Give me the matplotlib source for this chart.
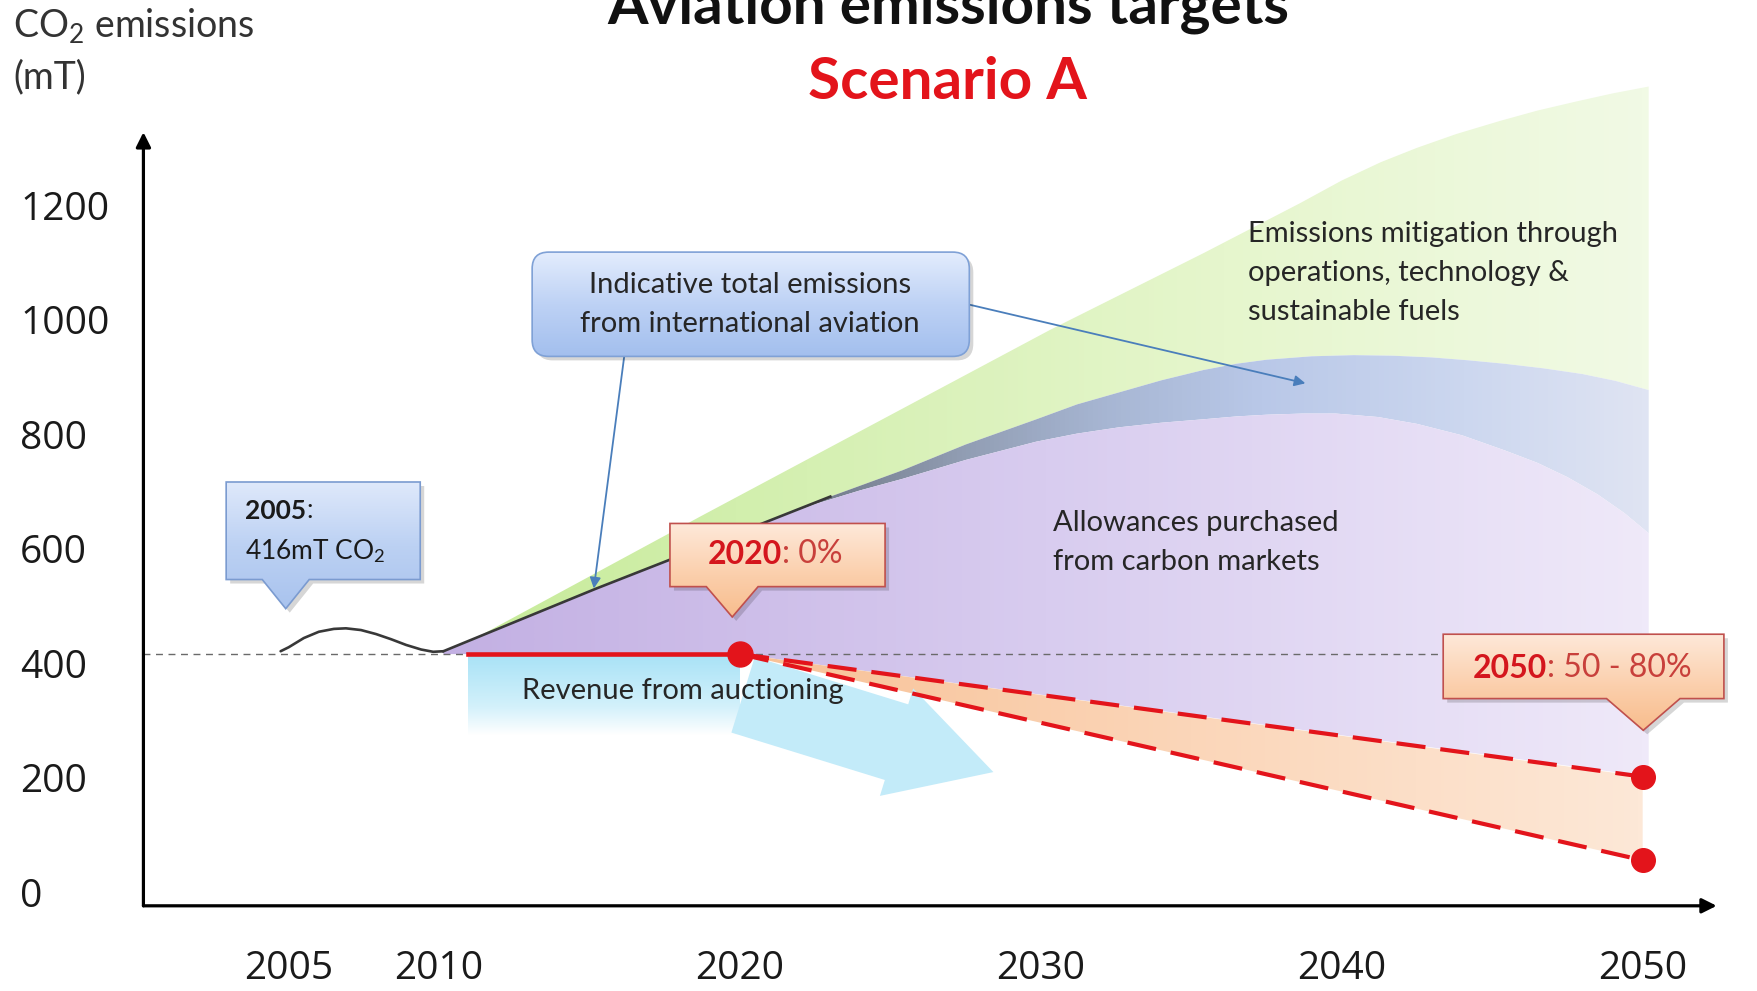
import numpy as np
import matplotlib
matplotlib.use("Agg")
import matplotlib.pyplot as plt
from matplotlib.patches import Polygon, FancyBboxPatch, FancyArrowPatch
from matplotlib.colors import LinearSegmentedColormap

plt.rcParams["font.family"] = ["Lato", "DejaVu Sans"]
plt.rcParams["mathtext.fontset"] = "custom"
plt.rcParams["mathtext.rm"] = "Lato"
plt.rcParams["mathtext.bf"] = "Lato:bold"
plt.rcParams["mathtext.it"] = "Lato:italic"

# ---------------- data ----------------
hist_years = [2004.73, 2005.0, 2005.5, 2006.0, 2006.5, 2006.9, 2007.4, 2007.9,
              2008.4, 2008.9, 2009.4, 2009.8, 2010.14]
hist_values = [421, 428, 444, 455, 460, 461, 458, 451, 442, 432, 424, 420, 421]

total_years = [2010.14, 2015.2, 2020.88, 2023.0, 2025.4, 2027.5, 2029.85, 2031.2,
               2032.6, 2034.0, 2035.4, 2036.5, 2037.5, 2039.0, 2040.4, 2041.7,
               2043.0, 2044.2, 2045.4, 2046.7, 2048.0, 2049.1, 2050.2]
total_values = [421, 530, 647, 691, 737, 782, 826, 852, 873, 894, 912, 923, 930,
                936, 938, 937, 934, 929, 923, 915, 905, 893, 877]

allow_years = [2010.14, 2015.2, 2020.88, 2022.5, 2024.0, 2025.4, 2027.5, 2029.85,
               2031.2, 2032.6, 2034.0, 2035.4, 2036.5, 2037.5, 2038.7, 2039.8,
               2041.2, 2042.5, 2044.0, 2045.4, 2046.5, 2047.5, 2048.5, 2049.4, 2050.2]
allow_values = [421, 530, 647, 678, 702, 722, 755, 787, 801, 812, 820, 826, 831,
                834, 836, 836, 830, 818, 798, 772, 750, 725, 695, 662, 627]

mitig_years = [2010.4, 2018.67, 2030.3, 2035.4, 2038.6, 2040.0, 2041.3, 2042.5,
               2043.8, 2045.26, 2046.5, 2047.8, 2049.0, 2050.2]
mitig_values = [421, 656, 982, 1116, 1203, 1243, 1275, 1300, 1324, 1347, 1365,
                1381, 1395, 1407]

baseline_value = 416
cap_years = [2010.97, 2020]
cap_values = [416, 416]
target_years = [2020, 2050]
target_upper = [416, 202]
target_lower = [416, 56]
revenue_floor = 275

ytick_values = [0, 200, 400, 600, 800, 1000, 1200]
xtick_years = [2005, 2010, 2020, 2030, 2040, 2050]

# ---------------- figure / axes ----------------
W, H = 1757, 991
fig = plt.figure(figsize=(W / 100, H / 100), dpi=100)
AXL, AXB = 0.08163, 0.08597
ax = fig.add_axes([AXL, AXB, 1 - AXL, 1 - AXB])
X0, X1, Y0, Y1 = 2000.17, 2053.80, -23.5, 1558.1
X_END, Y_END = 2052.46, 1327.3
ax.set_autoscale_on(False)
ax.set_xlim(X0, X1)
ax.set_ylim(Y0, Y1)
for s in ax.spines.values():
    s.set_visible(False)
ax.patch.set_alpha(0)
PXX = (X1 - X0) / (W * (1 - AXL))
PXY = (Y1 - Y0) / (H * (1 - AXB))

TXT = "#262626"
RED = "#e3141b"


def grad_poly(xs, ys, stops, z, vertical=False, patch=None):
    if patch is None:
        patch = Polygon(np.column_stack([xs, ys]), closed=True, fc="none", ec="none", zorder=z)
    ax.add_patch(patch)
    cmap = LinearSegmentedColormap.from_list("g", stops)
    g = np.linspace(0, 1, 256)
    arr = g.reshape(-1, 1) if vertical else g.reshape(1, -1)
    im = ax.imshow(arr, cmap=cmap, extent=[min(xs), max(xs), min(ys), max(ys)],
                   origin="lower", aspect="auto", interpolation="bilinear", zorder=z)
    im.set_clip_path(patch)
    return patch


# green: mitigation area
grad_poly(mitig_years + total_years[::-1], mitig_values + total_values[::-1],
          [(0, "#c6eb98"), (0.3, "#d5f0b2"), (0.65, "#e6f6cd"), (1, "#f1fae5")], 1)

# grey/blue band: indicative total emissions above allowances
grad_poly(total_years + allow_years[::-1], total_values + allow_values[::-1],
          [(0, "#5e6470"), (0.27, "#6a7280"), (0.35, "#7d8798"), (0.43, "#919db3"),
           (0.55, "#a7b6d3"), (0.68, "#b9c8e8"), (0.85, "#ccd7ef"), (1, "#dfe4f3")], 2)

# purple: allowances purchased
grad_poly(allow_years + [allow_years[-1], target_years[0], allow_years[0]],
          allow_values + [target_upper[-1], target_upper[0], baseline_value],
          [(0, "#c3b0e3"), (0.5, "#d8ccef"), (1, "#efe9f9")], 2)

# orange: target corridor
grad_poly([target_years[0], target_years[1], target_years[1]],
          [target_upper[0], target_upper[1], target_lower[1]],
          [(0, "#f8c196"), (0.5, "#fbd6b9"), (1, "#fde8d7")], 2)

# revenue from auctioning box
grad_poly([cap_years[0], cap_years[1], cap_years[1], cap_years[0]],
          [cap_values[0], cap_values[1], revenue_floor, revenue_floor],
          [(0, "#ffffff"), (0.35, "#d3f1fb"), (1, "#a8e2f6")], 2, vertical=True)

# big light-blue arrow
ax.add_patch(FancyArrowPatch(posA=(2020.1, 345), posB=(2028.42, 210),
                             arrowstyle="simple,head_length=73,head_width=81,tail_width=57",
                             mutation_scale=1, shrinkA=0, shrinkB=0,
                             fc="#c3ebf9", ec="none", zorder=2))

# baseline dashed
ax.plot([X0, 2043.37], [baseline_value, baseline_value], color="#6a6a6a", lw=1.0,
        dashes=(5, 4), zorder=3)

# historic & total emissions lines
ax.plot(hist_years, hist_values, color="#383838", lw=1.9, zorder=4,
        solid_capstyle="round", solid_joinstyle="round")
ax.plot(total_years[:4], total_values[:4], color="#383838", lw=1.9, zorder=4)

# red cap / targets
ax.plot(cap_years, cap_values, color=RED, lw=3.3, zorder=5)
ax.plot(target_years, target_upper, color=RED, lw=3.0, dashes=(7, 3.6), zorder=5)
ax.plot(target_years, target_lower, color=RED, lw=3.0, dashes=(7, 3.6), zorder=5)
ax.plot([target_years[0]], [target_upper[0]], "o", color=RED, ms=18, zorder=6)
ax.plot([target_years[1]] * 2, [target_upper[1], target_lower[1]], "o", color=RED,
        ms=17, zorder=6)


# ---------------- callouts ----------------
def callout(x0, x1, y0, y1, tip, half, stops, ec, z=7):
    tx, ty = tip
    xs = [x0, x1, x1, tx + half, tx, tx - half, x0]
    ys = [y1, y1, y0, y0, ty, y0, y0]
    sh = Polygon(np.column_stack([np.array(xs) + 4 * PXX, np.array(ys) - 4 * PXY]),
                 closed=True, fc="#000000", alpha=0.16, ec="none", zorder=z - 0.1)
    sh.set_clip_on(False)
    ax.add_patch(sh)
    grad_poly(xs, ys, stops, z, vertical=True)
    ax.add_patch(Polygon(np.column_stack([xs, ys]), closed=True, fc="none", ec=ec,
                         lw=1.2, zorder=z + 0.05, clip_on=False))


BLUE_STOPS = [(0, "#a9c3ee"), (0.5, "#bcd1f3"), (1, "#dfe9fb")]
ORANGE_STOPS = [(0, "#f8bd8d"), (0.45, "#fbcfac"), (1, "#fee9da")]

callout(2002.92, 2009.37, 546.2, 716.5, (2004.9, 495.3), 0.78, BLUE_STOPS, "#7b9bd0")
callout(2017.67, 2024.82, 533.8, 644.1, (2019.74, 480.8), 0.86, ORANGE_STOPS, "#c0504d")
callout(2043.37, 2052.70, 338.3, 450.7, (2050.02, 282.9), 1.22, ORANGE_STOPS, "#c0504d")

# rounded "indicative" box
bx0, bx1, by0, by1 = 2013.09, 2027.62, 935.8, 1117.9
asp = PXY / PXX
sh = FancyBboxPatch((bx0 + 4 * PXX, by0 - 4 * PXY), bx1 - bx0, by1 - by0,
                    boxstyle="round,pad=0,rounding_size=0.55", mutation_aspect=asp,
                    fc="#000000", alpha=0.16, ec="none", zorder=6.9)
ax.add_patch(sh)
rb = FancyBboxPatch((bx0, by0), bx1 - bx0, by1 - by0,
                    boxstyle="round,pad=0,rounding_size=0.55", mutation_aspect=asp,
                    fc="none", ec="none", zorder=7)
grad_poly([bx0, bx1], [by0, by1], [(0, "#a3bfee"), (0.5, "#bed2f5"), (1, "#e4edfd")],
          7, vertical=True, patch=rb)
ax.add_patch(FancyBboxPatch((bx0, by0), bx1 - bx0, by1 - by0,
                            boxstyle="round,pad=0,rounding_size=0.55", mutation_aspect=asp,
                            fc="none", ec="#7fa1d6", lw=1.2, zorder=7.05))
for (xa, ya), (xb, yb) in [((2016.15, 935.8), (2015.14, 530.5)),
                           ((2027.65, 1025.8), (2038.79, 888.8))]:
    ax.annotate("", xy=(xb, yb), xytext=(xa, ya),
                arrowprops=dict(arrowstyle="-|>", color="#4a7ebb", lw=1.3,
                                mutation_scale=16, shrinkA=0, shrinkB=0), zorder=6)

# ---------------- texts ----------------
FS = 21
ax.text(2020.32, 1025.8, "Indicative total emissions\nfrom international aviation",
        ha="center", va="center", fontsize=FS, color=TXT, linespacing=1.62, zorder=9)
ax.text(2036.89, 1080.7, "Emissions mitigation through\noperations, technology &\nsustainable fuels",
        ha="left", va="center", fontsize=FS, color=TXT, linespacing=1.62, zorder=9)
ax.text(2030.41, 610.8, "Allowances purchased\nfrom carbon markets",
        ha="left", va="center", fontsize=FS, color=TXT, linespacing=1.62, zorder=9)
ax.text(2012.76, 352.4, "Revenue from auctioning", ha="left", va="center",
        fontsize=FS, color=TXT, zorder=9)

t = ax.text(2003.56, 665.6, "2005", ha="left", va="center", fontsize=19,
            fontweight="bold", color="#1a1a1a", zorder=9)
ax.annotate(":", xy=(1, 0), xycoords=t, ha="left", va="bottom", fontsize=19,
            color="#1a1a1a", zorder=9)
ax.text(2003.56, 595.1, "416mT CO$_2$", ha="left", va="center", fontsize=19,
        color="#1a1a1a", zorder=9)

t = ax.text(2018.94, 589.3, "2020", ha="left", va="center", fontsize=23,
            fontweight="bold", color="#d4161d", zorder=9)
ax.annotate(": 0%", xy=(1, 0), xycoords=t, ha="left", va="bottom", fontsize=23,
            color="#c8403b", zorder=9)
t = ax.text(2044.34, 391.5, "2050", ha="left", va="center", fontsize=23,
            fontweight="bold", color="#d4161d", zorder=9)
ax.annotate(": 50 - 80%", xy=(1, 0), xycoords=t, ha="left", va="bottom", fontsize=23,
            color="#c8403b", zorder=9, annotation_clip=False)

fig.text(0.5395, 1 - 21 / 884, "Aviation emissions targets", ha="center", va="baseline",
         fontsize=42, fontweight="bold", color="#111111")
fig.text(0.5395, 1 - 88 / 884, "Scenario A", ha="center", va="baseline",
         fontsize=42, fontweight="bold", color=RED)
fig.text(12 / 1568, 1 - 23 / 884, "CO$_2$ emissions", ha="left", va="center",
         fontsize=27, color="#333333")
fig.text(12 / 1568, 1 - 69 / 884, "(mT)", ha="left", va="center", fontsize=27,
         color="#333333")

# ---------------- axes arrows & ticks ----------------
arrow_kw = dict(arrowstyle="-|>", lw=2.3, color="black", mutation_scale=22,
                shrinkA=0, shrinkB=0, clip_on=False)
ax.annotate("", xy=(X_END, Y0), xytext=(X0, Y0), arrowprops=arrow_kw,
            annotation_clip=False, zorder=10)
ax.annotate("", xy=(X0, Y_END), xytext=(X0, Y0), arrowprops=arrow_kw,
            annotation_clip=False, zorder=10)

ax.set_yticks(ytick_values)
ax.set_yticklabels([str(v) for v in ytick_values], fontfamily="Open Sans", fontsize=28,
                   color="#1a1a1a")
for lab in ax.get_yticklabels():
    lab.set_horizontalalignment("left")
ax.tick_params(axis="y", length=0, pad=88.7)
ax.set_xticks(xtick_years)
ax.set_xticklabels([str(v) for v in xtick_years], fontfamily="Open Sans", fontsize=28,
                   color="#1a1a1a")
ax.tick_params(axis="x", length=0, pad=32)

ax.set_xlim(X0, X1)
ax.set_ylim(Y0, Y1)
fig.savefig("out.png", dpi=100)
